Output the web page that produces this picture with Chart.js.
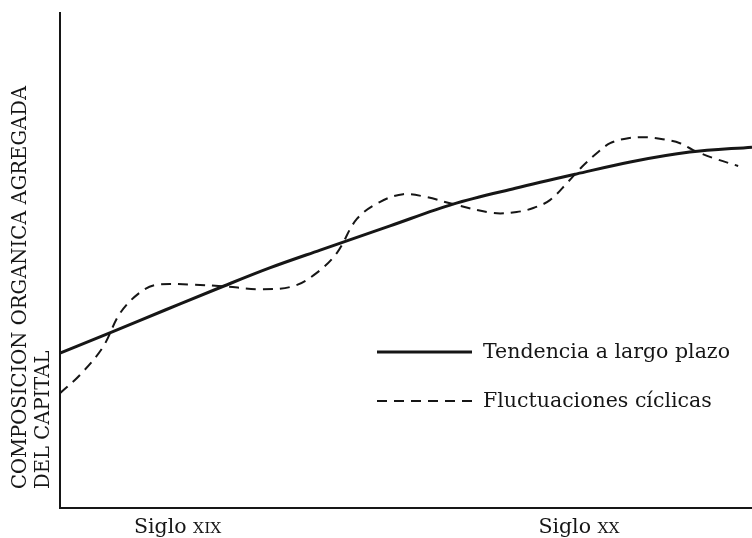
<!DOCTYPE html>
<html>
<head>
<meta charset="utf-8">
<script src="https://cdn.jsdelivr.net/npm/chart.js@4"></script>
<style>
  html, body { margin: 0; padding: 0; background: #fff; }
  #wrap { width: 752px; height: 538px; }
</style>
</head>
<body>
<div id="wrap"><canvas id="chart" width="752" height="538"></canvas></div>
<script>
// values (x: 0-100 across, y: 0-100 up)
const trendX = [0, 7.2, 15.2, 23.6, 30.3, 37.6, 47.7, 56.8, 65.8, 74.7, 82.4, 91.0, 100];
const trendY = [31.3, 35.4, 40.0, 44.8, 48.5, 52.1, 57.0, 61.4, 64.6, 67.5, 69.9, 71.9, 72.9];

const cycleX = [0, 2.9, 6.2, 8.7, 11.6, 14.0, 19.2, 23.6, 28.9, 33.7, 37.1, 40.0, 42.9, 46.2, 49.6, 53.0,
  56.8, 62.6, 66.0, 68.4, 70.8, 73.3, 75.4, 77.6, 79.5, 82.1, 84.8, 87.1, 89.6, 91.5, 94.4, 98.0];
const cycleY = [23.2, 26.9, 32.5, 39.4, 43.6, 45.1, 45.1, 44.8, 44.2, 44.8, 47.5, 51.5, 58.4, 61.8, 63.4, 62.8,
  61.4, 59.6, 59.8, 60.6, 62.2, 65.7, 68.9, 71.7, 73.7, 74.7, 74.9, 74.5, 73.7, 72.3, 70.7, 69.1];

const seriesNames = ['Tendencia a largo plazo', 'Fluctuaciones cíclicas'];
const tickValues = [17, 75];
const tickLabels = [['Siglo ', 'XIX'], ['Siglo ', 'XX']];
const yTitle = ['COMPOSICION ORGANICA AGREGADA', 'DEL CAPITAL'];

const ink = '#161616';
const serif = '"DejaVu Serif", "Liberation Serif", serif';

const toPoints = (xs, ys) => xs.map((x, i) => ({ x, y: ys[i] }));

// legend placed inside the plot, like the printed figure
const insideLegend = {
  id: 'insideLegend',
  afterDatasetsDraw(chart) {
    const ctx = chart.ctx;
    const rows = [352, 401];
    ctx.save();
    chart.data.datasets.forEach((ds, i) => {
      ctx.strokeStyle = ds.borderColor;
      ctx.lineWidth = ds.borderWidth;
      ctx.setLineDash(ds.borderDash || []);
      ctx.beginPath();
      ctx.moveTo(377, rows[i]);
      ctx.lineTo(472, rows[i]);
      ctx.stroke();
      ctx.setLineDash([]);
      ctx.fillStyle = ink;
      ctx.font = '20.5px ' + serif;
      ctx.textBaseline = 'middle';
      ctx.textAlign = 'left';
      ctx.fillText(ds.label, 483, rows[i] + 1);
    });
    ctx.restore();
  }
};

// rotated two-line axis title and small-caps century labels
const axisText = {
  id: 'axisText',
  afterDraw(chart) {
    const ctx = chart.ctx;
    ctx.save();
    ctx.fillStyle = ink;
    ctx.font = '19.6px ' + serif;
    ctx.textAlign = 'left';
    ctx.textBaseline = 'middle';
    [21, 44].forEach((cx, i) => {
      ctx.save();
      ctx.translate(cx, 489);
      ctx.rotate(-Math.PI / 2);
      ctx.fillText(yTitle[i], 0, 0);
      ctx.restore();
    });

    const xs = chart.scales.x;
    ctx.textBaseline = 'alphabetic';
    tickValues.forEach((v, i) => {
      const [word, num] = tickLabels[i];
      ctx.font = '20.5px ' + serif;
      const w1 = ctx.measureText(word).width;
      ctx.font = '15.5px ' + serif;
      const w2 = ctx.measureText(num).width;
      const left = xs.getPixelForValue(v) - (w1 + w2) / 2;
      ctx.font = '20.5px ' + serif;
      ctx.fillText(word, left, 533);
      ctx.font = '15.5px ' + serif;
      ctx.fillText(num, left + w1, 533);
    });
    ctx.restore();
  }
};

new Chart(document.getElementById('chart').getContext('2d'), {
  type: 'line',
  data: {
    datasets: [{
      label: seriesNames[0],
      data: toPoints(trendX, trendY),
      borderColor: ink,
      borderWidth: 3,
      pointRadius: 0,
      cubicInterpolationMode: 'monotone',
      fill: false
    }, {
      label: seriesNames[1],
      data: toPoints(cycleX, cycleY),
      borderColor: ink,
      borderWidth: 2,
      borderDash: [10, 7],
      pointRadius: 0,
      tension: 0.35,
      fill: false
    }]
  },
  options: {
    responsive: false,
    animation: false,
    layout: { padding: { left: 60, top: 13, right: 0, bottom: 30 } },
    plugins: {
      legend: { display: false },
      tooltip: { enabled: false }
    },
    scales: {
      x: {
        type: 'linear', min: 0, max: 100,
        grid: { display: false, drawTicks: false },
        border: { display: true, color: ink, width: 2 },
        ticks: { display: false }
      },
      y: {
        type: 'linear', min: 0, max: 100,
        grid: { display: false, drawTicks: false },
        border: { display: true, color: ink, width: 2 },
        ticks: { display: false }
      }
    }
  },
  plugins: [insideLegend, axisText]
});
</script>
</body>
</html>
